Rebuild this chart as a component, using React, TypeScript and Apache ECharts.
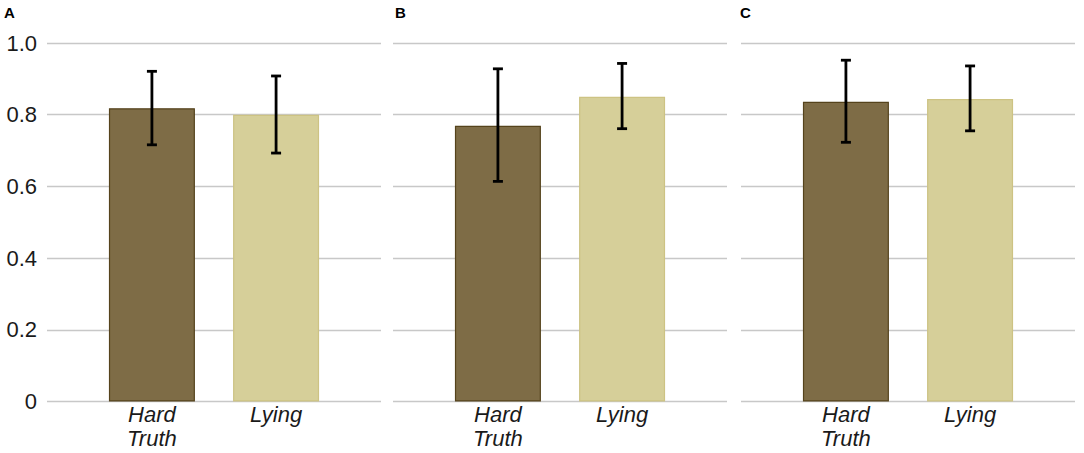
import React, { useEffect, useRef } from "react";
import * as echarts from "echarts";

const categories = ["Hard\nTruth", "Lying"];
const panels = ["A", "B", "C"];
const meanA = [0.818, 0.8];
const lowA = [0.716, 0.693];
const highA = [0.921, 0.908];
const meanB = [0.769, 0.85];
const lowB = [0.614, 0.761];
const highB = [0.928, 0.943];
const meanC = [0.836, 0.844];
const lowC = [0.723, 0.755];
const highC = [0.952, 0.936];
const yTicks = [0, 0.2, 0.4, 0.6, 0.8, 1.0];

const means = [meanA, meanB, meanC];
const lows = [lowA, lowB, lowC];
const highs = [highA, highB, highC];

const darkFill = "#7e6c46";
const darkBorder = "#55431c";
const lightFill = "#d6cf99";
const lightBorder = "#cdc383";
const gridLefts = [47, 393, 741];
const panelLetterX = [4, 395, 740];

export default function App() {
  const ref = useRef<HTMLDivElement>(null);
  useEffect(() => {
    document.body.style.margin = "0";
    const chart = echarts.init(ref.current!, undefined, { renderer: "svg" });
    const grids: any[] = [];
    const xAxes: any[] = [];
    const yAxes: any[] = [];
    const series: any[] = [];
    panels.forEach((p, i) => {
      grids.push({ left: gridLefts[i], top: 43, width: 334, height: 358.5 });
      xAxes.push({
        type: "value",
        gridIndex: i,
        min: 0.155,
        max: 2.845,
        axisLine: { show: false },
        axisTick: { show: false },
        splitLine: { show: false },
        axisLabel: {
          customValues: [1, 2],
          formatter: (v: number) => categories[Math.round(v) - 1] ?? "",
          fontFamily: "Liberation Sans, Arial, sans-serif",
          fontStyle: "italic",
          fontSize: 22,
          lineHeight: 24,
          color: "#1a1a1a",
          margin: 1,
          verticalAlign: "top",
        },
      });
      yAxes.push({
        type: "value",
        gridIndex: i,
        min: 0,
        max: 1,
        interval: 0.2,
        axisLine: { show: false },
        axisTick: { show: false },
        splitLine: { lineStyle: { color: "#c8c8c8", width: 1.3 } },
        axisLabel: {
          show: i === 0,
          formatter: (v: number) => (v === 0 ? "0" : v.toFixed(1)),
          fontFamily: "Liberation Sans, Arial, sans-serif",
          fontSize: 22,
          color: "#1a1a1a",
          margin: 10,
        },
      });
      series.push({
        type: "bar",
        xAxisIndex: i,
        yAxisIndex: i,
        barWidth: 86,
        data: means[i].map((m, j) => ({
          value: [j + 1, m],
          itemStyle: {
            color: j === 0 ? darkFill : lightFill,
            borderColor: j === 0 ? darkBorder : lightBorder,
            borderWidth: 1.2,
          },
        })),
      });
      series.push({
        type: "custom",
        xAxisIndex: i,
        yAxisIndex: i,
        data: means[i].map((_, j) => [j + 1, lows[i][j], highs[i][j]]),
        renderItem: (params: any, api: any) => {
          const x = api.value(0);
          const lo = api.coord([x, api.value(1)]);
          const hi = api.coord([x, api.value(2)]);
          const hw = 5;
          const style = { stroke: "#000", lineWidth: 2.8 };
          return {
            type: "group",
            children: [
              { type: "line", shape: { x1: lo[0], y1: lo[1], x2: hi[0], y2: hi[1] }, style },
              { type: "line", shape: { x1: hi[0] - hw, y1: hi[1], x2: hi[0] + hw, y2: hi[1] }, style },
              { type: "line", shape: { x1: lo[0] - hw, y1: lo[1], x2: lo[0] + hw, y2: lo[1] }, style },
            ],
          };
        },
        z: 5,
      });
    });
    chart.setOption({
      animation: false,
      backgroundColor: "#ffffff",
      grid: grids,
      xAxis: xAxes,
      yAxis: yAxes,
      series,
      graphic: panels.map((p, i) => ({
        type: "text",
        left: panelLetterX[i],
        top: 5,
        style: {
          text: p,
          font: "bold 15px Liberation Sans, Arial, sans-serif",
          fill: "#000",
        },
      })),
    });
    return () => chart.dispose();
  }, []);
  return <div ref={ref} style={{ width: 1084, height: 453 }} />;
}
